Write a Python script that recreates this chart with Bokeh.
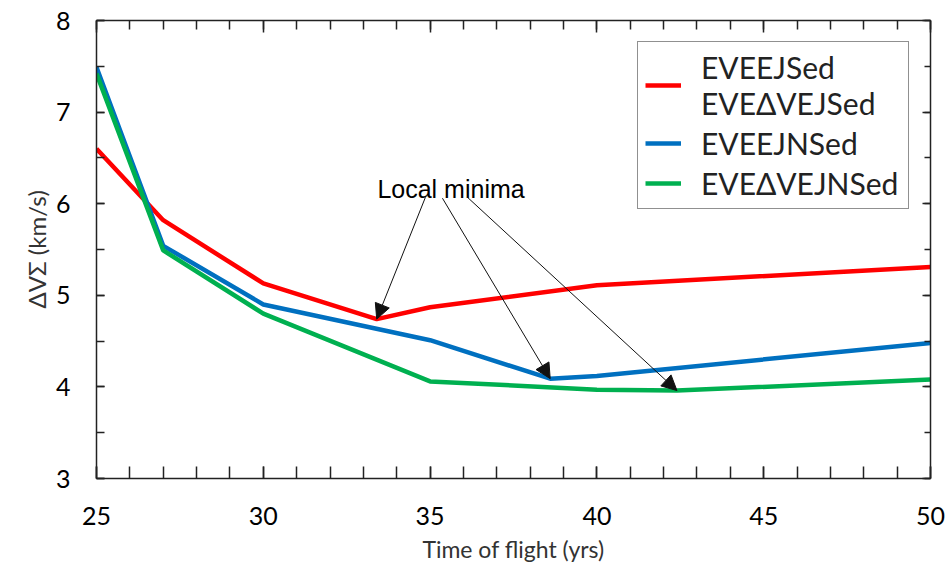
from bokeh.plotting import figure
from bokeh.models import (Range1d, LinearAxis, Legend, LegendItem, Label, Arrow,
                          NormalHead, FixedTicker)
from bokeh.embed import file_html
from bokeh.resources import INLINE

# Data
red_x = [25, 27, 30, 33.4, 35, 40, 50]
red_y = [6.60, 5.82, 5.13, 4.74, 4.87, 5.11, 5.31]
blue_x = [25, 27, 30, 35, 38.6, 40, 50]
blue_y = [7.49, 5.54, 4.90, 4.51, 4.09, 4.12, 4.48]
green_x = [25, 27, 30, 35, 40, 42.4, 50]
green_y = [7.42, 5.49, 4.80, 4.06, 3.97, 3.96, 4.08]

red_label = "EVEEJSed\nEVE\u0394VEJSed"
blue_label = "EVEEJNSed"
green_label = "EVE\u0394VEJNSed"

x_major = [25, 30, 35, 40, 45, 50]
y_major = [3, 4, 5, 6, 7, 8]

annot_text = "Local minima"
annot_x = 33.42
annot_y = 6.16
arrow_starts_x = [34.86, 35.37, 36.12]
arrow_starts_y = [6.07, 6.06, 6.07]
# targets: the local minima of each series
minima = [(red_x[3], red_y[3]), (blue_x[4], blue_y[4]), (green_x[5], green_y[5])]

FONT = "Lato"

p = figure(width=950, height=564, output_backend="svg", toolbar_location=None,
           x_range=Range1d(25, 50), y_range=Range1d(3, 8),
           frame_width=834, frame_height=458,
           min_border_left=96, min_border_right=20, min_border_top=20, min_border_bottom=86)
p.background_fill_color = "white"
p.border_fill_color = "white"
p.outline_line_color = None
p.xgrid.visible = False
p.ygrid.visible = False

AX_COL = "#222222"

xa = p.xaxis[0]
xa.ticker = FixedTicker(ticks=x_major, minor_ticks=list(range(25, 51)))
xa.axis_label = "Time of flight (yrs)"
ya = p.yaxis[0]
ya.ticker = FixedTicker(ticks=y_major, minor_ticks=[3 + 0.5 * i for i in range(11)])
ya.axis_label = "\u0394V\u03a3 (km/s)"

for ax in (xa, ya):
    ax.axis_line_color = AX_COL
    ax.axis_line_width = 1.5
    ax.major_tick_line_color = AX_COL
    ax.minor_tick_line_color = AX_COL
    ax.major_tick_line_width = 1.5
    ax.minor_tick_line_width = 1.5
    ax.major_tick_out = 0
    ax.minor_tick_out = 0
    ax.major_label_text_font = FONT
    ax.major_label_text_font_size = "25px"
    ax.major_label_text_color = "black"
    ax.axis_label_text_font = FONT
    ax.axis_label_text_font_size = "23px"
    ax.axis_label_text_font_style = "normal"
    ax.axis_label_text_color = "#333333"

ya.axis_label_text_font_size = "24px"
xa.major_tick_in = 12
xa.minor_tick_in = 12
xa.major_label_standoff = 28
xa.axis_label_standoff = 7
ya.major_tick_in = 8
ya.minor_tick_in = 8
ya.major_label_standoff = 26
ya.axis_label_standoff = 2

top = LinearAxis(ticker=FixedTicker(ticks=x_major, minor_ticks=list(range(25, 51))),
                 major_label_text_font_size="0px", major_label_standoff=0)
right = LinearAxis(ticker=FixedTicker(ticks=y_major, minor_ticks=[3 + 0.5 * i for i in range(11)]),
                   major_label_text_font_size="0px", major_label_standoff=0)
for ax, mj, mn, tk in ((top, 12, 9, x_major), (right, 8, 6, y_major)):
    ax.axis_line_color = AX_COL
    ax.axis_line_width = 1.5
    ax.major_tick_line_color = AX_COL
    ax.minor_tick_line_color = AX_COL
    ax.major_tick_line_width = 1.5
    ax.minor_tick_line_width = 1.5
    ax.major_tick_out = 0
    ax.minor_tick_out = 0
    ax.major_tick_in = mj
    ax.minor_tick_in = mn
    ax.major_label_overrides = {t: "" for t in tk}
p.add_layout(top, "above")
p.add_layout(right, "right")

r_red = p.line(red_x, red_y, line_color="#ff0000", line_width=4.5)
r_blue = p.line(blue_x, blue_y, line_color="#0070c0", line_width=4.5)
r_green = p.line(green_x, green_y, line_color="#00b050", line_width=4.5)

legend = Legend(items=[LegendItem(label=red_label, renderers=[r_red]),
                       LegendItem(label=blue_label, renderers=[r_blue]),
                       LegendItem(label=green_label, renderers=[r_green])],
                location="top_right")
legend.label_text_font = FONT
legend.label_text_font_size = "30px"
legend.label_text_line_height = 1.1
legend.label_text_color = "#222222"
legend.border_line_color = "#222222"
legend.border_line_width = 1.5
legend.background_fill_alpha = 1
legend.glyph_width = 36
legend.label_standoff = 20
legend.padding = 7
legend.spacing = 4
legend.margin = 21
legend.label_width = 200
p.add_layout(legend)

p.add_layout(Label(x=annot_x, y=annot_y, text=annot_text, text_font="Liberation Sans",
                   text_font_size="25px", text_color="black", text_baseline="middle"))
for (sx, sy), (tx, ty) in zip(zip(arrow_starts_x, arrow_starts_y), minima):
    p.add_layout(Arrow(x_start=sx, y_start=sy, x_end=tx, y_end=ty,
                       line_color="#111111", line_width=1,
                       end=NormalHead(size=15, fill_color="#111111", line_color="#111111")))

open("out.html", "w").write(file_html(p, INLINE))
